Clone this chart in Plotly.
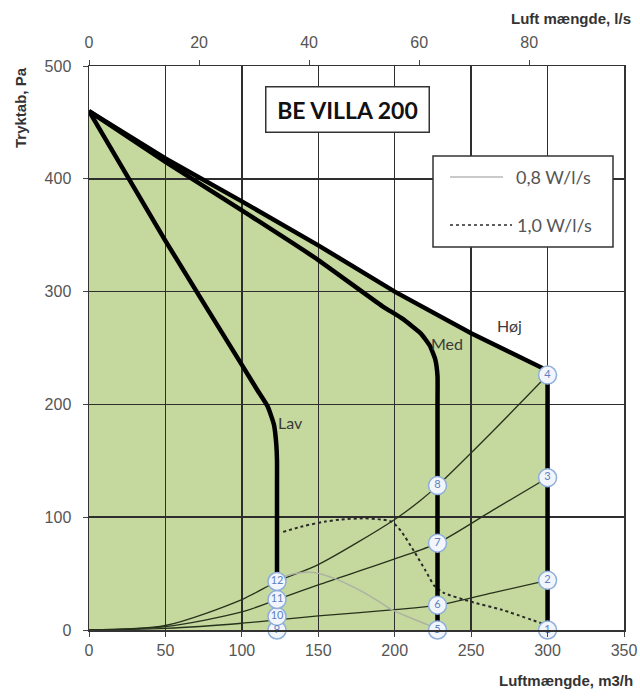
import plotly.graph_objects as go

# ---------------- data ----------------
HOJ_X = [0, 50, 100, 150, 200, 250, 300, 300]
HOJ_Y = [460, 418, 380, 341, 300, 263, 230, 0]

MED_X = [0, 50, 100, 150, 192, 205, 217, 223, 226.5, 228, 228, 228]
MED_Y = [460, 415, 372, 328, 287, 276, 263, 252, 240, 225, 200, 0]

LAV_X = [0, 50, 100, 110, 117, 121, 122.5, 123, 123, 123]
LAV_Y = [460, 345, 235, 213, 198, 182, 165, 150, 130, 43]

# thin system curves (through numbered points)
SYS_A_X = [0, 50, 100, 123, 150, 200, 217, 228, 264, 300]
SYS_A_Y = [0, 4, 27, 43, 58, 98, 115, 128, 176, 226]
SYS_B_X = [0, 50, 100, 123, 150, 200, 228, 264, 300]
SYS_B_Y = [0, 3, 16, 27, 40, 63, 77, 106, 135]
SYS_C_X = [0, 50, 100, 123, 150, 200, 228, 264, 300]
SYS_C_Y = [0, 1.5, 6, 9, 12.5, 18, 22, 33, 44]

# specific power lines
W08_X = [125, 135, 147, 160, 176, 190, 198, 210, 221, 228]
W08_Y = [46, 50, 51, 46, 36, 25, 18, 11, 5, 2]
W10_X = [127, 140, 154, 165, 180, 191, 198, 204, 213, 220, 226, 232, 250, 270, 298]
W10_Y = [87, 92, 96, 98, 99, 98, 96, 88, 69, 53, 39, 33, 25, 18, 5]

# numbered operating points
PT_LABELS = ["1", "2", "3", "4", "5", "6", "7", "8", "9", "10", "11", "12"]
PT_X = [300, 300, 300, 300, 228, 228, 228, 228, 123, 123, 123, 123]
PT_Y = [0, 44, 135, 226, 0, 22, 77, 128, 0, 12, 27, 43]

CURVE_LABELS = ["Lav", "Med", "Høj"]
CURVE_LBL_X = [132, 234, 275]
CURVE_LBL_Y = [184, 254, 270]

X_TICKS = [0, 50, 100, 150, 200, 250, 300, 350]
Y_TICKS = [0, 100, 200, 300, 400, 500]
LS_TICKS = [0, 20, 40, 60, 80]
M3H_PER_LS = 3.6

LEGEND_LABELS = ["0,8 W/l/s", "1,0 W/l/s"]

# ---------------- figure ----------------
fig = go.Figure()

thick = dict(color="black", width=4.5)
thin = dict(color="#27321c", width=1.3)

for xs, ys in [(SYS_A_X, SYS_A_Y), (SYS_B_X, SYS_B_Y), (SYS_C_X, SYS_C_Y)]:
    fig.add_trace(go.Scatter(x=xs, y=ys, mode="lines", line=dict(shape="spline", smoothing=0.8, **thin),
                             showlegend=False, hoverinfo="skip"))

fig.add_trace(go.Scatter(x=W08_X, y=W08_Y, mode="lines",
                         line=dict(color="#aeb2a2", width=1.5, shape="spline", smoothing=0.8),
                         showlegend=False, hoverinfo="skip"))
fig.add_trace(go.Scatter(x=W10_X, y=W10_Y, mode="lines",
                         line=dict(color="#2a2a2a", width=2, dash="dot", shape="spline", smoothing=0.6),
                         showlegend=False, hoverinfo="skip"))

fig.add_trace(go.Scatter(x=HOJ_X, y=HOJ_Y, mode="lines", line=dict(shape="linear", **thick),
                         showlegend=False, hoverinfo="skip"))
for xs, ys in [(MED_X, MED_Y), (LAV_X, LAV_Y)]:
    fig.add_trace(go.Scatter(x=xs, y=ys, mode="lines", line=dict(shape="spline", smoothing=0.4, **thick),
                             showlegend=False, hoverinfo="skip"))

fig.add_trace(go.Scatter(x=PT_X, y=PT_Y, mode="markers+text", text=PT_LABELS,
                         textposition="middle center",
                         textfont=dict(family="Lato", size=11, color="#5b7fc0"),
                         marker=dict(size=18, color="#f2f6fc", line=dict(color="#8eaedb", width=1.5)),
                         cliponaxis=False, showlegend=False, hoverinfo="skip"))

# invisible trace on top (l/s) axis
fig.add_trace(go.Scatter(x=[LS_TICKS[0]], y=[Y_TICKS[0]], xaxis="x2", mode="markers",
                         marker=dict(opacity=0), showlegend=False, hoverinfo="skip"))

# green operating area (below gridlines)
path = "M 0,0 " + " ".join(f"L {x},{y}" for x, y in zip(HOJ_X, HOJ_Y)) + " Z"
fig.add_shape(type="path", path=path, xref="x", yref="y", layer="below",
              fillcolor="#c5d89d", line=dict(width=0))

for t, x, y in zip(CURVE_LABELS, CURVE_LBL_X, CURVE_LBL_Y):
    fig.add_annotation(x=x, y=y, text=t, showarrow=False, xanchor="center", yanchor="middle",
                       font=dict(family="Lato", size=16, color="#3a3a3a"))

# plot area in page pixels: x 89..624, y 66..630 (page body margin removed below)
FIG_W, FIG_H = 640, 700
PL, PT, PW, PH = 89, 66, 535, 564


def px2paper(px, py):
    return (px - PL) / PW, (PT + PH - py) / PH


# title box
bx, by = px2paper(347, 109)
fig.add_annotation(xref="paper", yref="paper", x=bx, y=by, text="<b>BE VILLA 200</b>",
                   xanchor="center", yanchor="middle",
                   showarrow=False, font=dict(family="Lato", size=23, color="#111"),
                   bgcolor="white", bordercolor="#333", borderwidth=1.5, width=158, height=40, borderpad=2)

# legend box
lx0, ly0 = px2paper(433, 156)
lx1, ly1 = px2paper(613, 247)
fig.add_shape(type="rect", xref="paper", yref="paper", x0=lx0, y0=ly1, x1=lx1, y1=ly0,
              fillcolor="white", line=dict(color="#333", width=1.5), layer="above")
sx0, sy0 = px2paper(450, 177)
sx1, _ = px2paper(503, 177)
fig.add_shape(type="line", xref="paper", yref="paper", x0=sx0, x1=sx1, y0=sy0, y1=sy0,
              line=dict(color="#b8b8b8", width=1.5))
dx0, dy0 = px2paper(450, 225)
dx1, _ = px2paper(512, 225)
fig.add_shape(type="line", xref="paper", yref="paper", x0=dx0, x1=dx1, y0=dy0, y1=dy0,
              line=dict(color="#2a2a2a", width=1.5, dash="dot"))
tx, ty = px2paper(514, 177)
fig.add_annotation(xref="paper", yref="paper", x=tx, y=ty, text=LEGEND_LABELS[0], showarrow=False,
                   xanchor="left", yanchor="middle", font=dict(family="Lato", size=18, color="#555"))
tx, ty = px2paper(515, 225)
fig.add_annotation(xref="paper", yref="paper", x=tx, y=ty, text=LEGEND_LABELS[1], showarrow=False,
                   xanchor="left", yanchor="middle", font=dict(family="Lato", size=18, color="#555"))

# axis titles
ttl_font = dict(family="Liberation Sans", size=15, color="#333")
ax, ay = px2paper(635, 680)
fig.add_annotation(xref="paper", yref="paper", x=ax, y=ay,
                   text="<b>Luftmængde, m3/h</b>", showarrow=False, xanchor="right", yanchor="middle",
                   font=ttl_font)
ax, ay = px2paper(633, 18)
fig.add_annotation(xref="paper", yref="paper", x=ax, y=ay,
                   text="<b>Luft mængde, l/s</b>", showarrow=False, xanchor="right", yanchor="middle",
                   font=ttl_font)
ax, ay = px2paper(20, 108)
fig.add_annotation(xref="paper", yref="paper", x=ax, y=ay,
                   text="<b>Tryktab, Pa</b>", showarrow=False, textangle=-90, xanchor="center",
                   yanchor="middle", font=ttl_font)

tick_font = dict(family="Liberation Sans", size=16, color="#555")
grid = dict(showgrid=True, gridcolor="#2e2e2e", gridwidth=1.5)

fig.update_layout(
    width=FIG_W, height=FIG_H,
    margin=dict(l=PL, r=FIG_W - PL - PW, t=PT, b=FIG_H - PT - PH),
    paper_bgcolor="white", plot_bgcolor="white",
    showlegend=False,
    xaxis=dict(range=[X_TICKS[0], X_TICKS[-1]], tickvals=X_TICKS, ticks="outside", ticklen=5,
               tickcolor="#444", showline=True, linecolor="#333", linewidth=1.5, mirror=True,
               tickfont=tick_font, zeroline=False, automargin=False, ticklabeloverflow="allow", **grid),
    xaxis2=dict(overlaying="x", side="top", range=[X_TICKS[0] / M3H_PER_LS, X_TICKS[-1] / M3H_PER_LS],
                tickvals=LS_TICKS, ticks="outside", ticklen=5, tickcolor="#444", showgrid=False,
                zeroline=False, tickfont=tick_font, ticklabelstandoff=6, automargin=False),
    yaxis=dict(range=[Y_TICKS[0], Y_TICKS[-1]], tickvals=Y_TICKS, ticks="outside", ticklen=5,
               tickcolor="#444", showline=True, linecolor="#333", linewidth=1.5, mirror=True,
               tickfont=tick_font, zeroline=False, ticklabelstandoff=8, automargin=False, **grid),
)

fig.write_html("out.html", config={"displayModeBar": False, "staticPlot": True},
               post_script="document.body.style.margin='0';document.body.style.overflow='hidden';")
